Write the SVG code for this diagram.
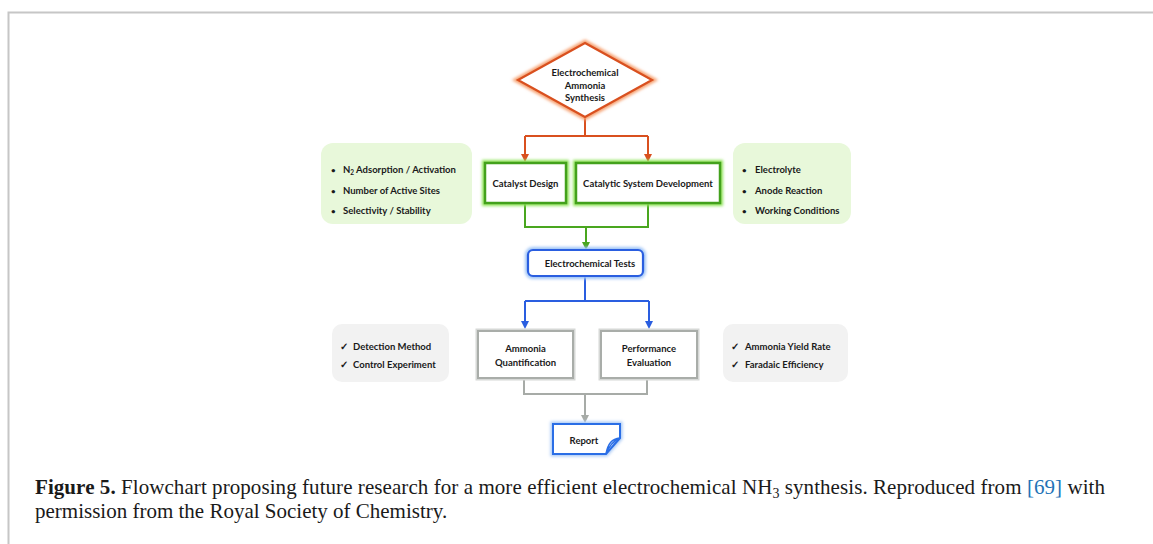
<svg xmlns="http://www.w3.org/2000/svg" width="1153" height="544" viewBox="0 0 1153 544">
<defs>
<style>
.t{font-family:Lato,"Liberation Sans",sans-serif;font-weight:700;font-size:9.5px;fill:#1a1a1a}
.b{font-family:Lato,"Liberation Sans",sans-serif;font-weight:700;font-size:8px;fill:#1a1a1a}
.tc{text-anchor:middle}
.cap{font-family:"Liberation Serif",serif;font-size:21px;fill:#1a1a1a}
.or{fill:none;stroke:#d9501f;stroke-width:2}
.gr{fill:none;stroke:#49a61f;stroke-width:2}
.bl{fill:none;stroke:#2a5ee0;stroke-width:2}
.gy{fill:none;stroke:#a7aba7;stroke-width:2}
</style>
<filter id="blur" x="-20%" y="-20%" width="140%" height="140%"><feGaussianBlur stdDeviation="1.6"/></filter>
</defs>
<rect width="1153" height="544" fill="#ffffff"/>
<path d="M8.5,544 V12.5 H1153" fill="none" stroke="#c6c6c6" stroke-width="2"/>

<g id="connectors">
<path class="or" d="M585,117 V136"/>
<path class="or" d="M525,136 H648"/>
<path class="or" d="M525,136 V155"/>
<path class="or" d="M648,136 V155"/>
<path class="gr" d="M525,204 V227 H648 V204"/>
<path class="gr" d="M586,227 V243"/>
<path class="bl" d="M585,277 V301"/>
<path class="bl" d="M525,301 H649"/>
<path class="bl" d="M525,301 V322"/>
<path class="bl" d="M649,301 V322"/>
<path class="gy" d="M524,379 V394 H647 V379"/>
<path class="gy" d="M585,394 V416"/>
<path d="M521,154 L529,154 L525,162 Z" fill="#d9501f"/>
<path d="M644,154 L652,154 L648,162 Z" fill="#d9501f"/>
<path d="M582,242 L590,242 L586,250 Z" fill="#49a61f"/>
<path d="M521,321 L529,321 L525,329 Z" fill="#2a5ee0"/>
<path d="M645,321 L653,321 L649,329 Z" fill="#2a5ee0"/>
<path d="M581,415 L589,415 L585,423 Z" fill="#a7aba7"/>
</g>

<g id="node-diamond">
<path d="M585,43 L652,80 L585,117 L518,80 Z" fill="none" stroke="#f6a070" stroke-width="6" filter="url(#blur)"/>
<path d="M585,43 L652,80 L585,117 L518,80 Z" fill="#ffffff" stroke="#d9501f" stroke-width="2.2"/>
<text class="t tc" x="585" y="76">Electrochemical</text>
<text class="t tc" x="585" y="89">Ammonia</text>
<text class="t tc" x="585" y="101">Synthesis</text>
</g>

<g id="node-catalyst-design">
<rect x="485" y="163" width="81" height="40" fill="none" stroke="#8fe35a" stroke-width="6" filter="url(#blur)"/>
<rect x="485" y="163" width="81" height="40" fill="#ffffff" stroke="#43a11c" stroke-width="2.5"/>
<text class="t tc" x="525.5" y="187">Catalyst Design</text>
</g>

<g id="node-catalytic-system">
<rect x="576" y="163" width="144" height="40" fill="none" stroke="#8fe35a" stroke-width="6" filter="url(#blur)"/>
<rect x="576" y="163" width="144" height="40" fill="#ffffff" stroke="#43a11c" stroke-width="2.5"/>
<text class="t tc" x="648" y="187">Catalytic System Development</text>
</g>

<g id="panel-catalyst">
<rect x="321" y="143" width="151" height="81" rx="12" fill="#e8f8da"/>
<text class="b" x="331" y="173">•</text><text class="t" x="343" y="173">N<tspan font-size="6.5" dy="2">2</tspan><tspan dy="-2"> Adsorption / Activation</tspan></text>
<text class="b" x="331" y="194">•</text><text class="t" x="343" y="194">Number of Active Sites</text>
<text class="b" x="331" y="214">•</text><text class="t" x="343" y="214">Selectivity / Stability</text>
</g>

<g id="panel-system">
<rect x="733" y="143" width="118" height="81" rx="12" fill="#e8f8da"/>
<text class="b" x="742" y="173">•</text><text class="t" x="755" y="173">Electrolyte</text>
<text class="b" x="742" y="194">•</text><text class="t" x="755" y="194">Anode Reaction</text>
<text class="b" x="742" y="214">•</text><text class="t" x="755" y="214">Working Conditions</text>
</g>

<g id="node-tests">
<rect x="528" y="250" width="115" height="26" rx="5" fill="none" stroke="#9fc4f6" stroke-width="6" filter="url(#blur)"/>
<rect x="528" y="250" width="115" height="26" rx="5" fill="#ffffff" stroke="#2a5ee0" stroke-width="2.2"/>
<text class="t tc" x="590" y="267">Electrochemical Tests</text>
</g>

<g id="panel-detection">
<rect x="332" y="324" width="117" height="58" rx="10" fill="#f2f2f2"/>
<text class="t" x="340" y="350">✓</text><text class="t" x="353" y="350">Detection Method</text>
<text class="t" x="340" y="368">✓</text><text class="t" x="353" y="368">Control Experiment</text>
</g>

<g id="node-quantification">
<rect x="478" y="331" width="95" height="47" fill="#ffffff" stroke="#d6d8d6" stroke-width="5"/>
<rect x="478" y="331" width="95" height="47" fill="#ffffff" stroke="#a9ada9" stroke-width="2"/>
<text class="t tc" x="525.5" y="352">Ammonia</text>
<text class="t tc" x="525.5" y="366">Quantification</text>
</g>

<g id="node-performance">
<rect x="601" y="331" width="96" height="47" fill="#ffffff" stroke="#d6d8d6" stroke-width="5"/>
<rect x="601" y="331" width="96" height="47" fill="#ffffff" stroke="#a9ada9" stroke-width="2"/>
<text class="t tc" x="649" y="352">Performance</text>
<text class="t tc" x="649" y="366">Evaluation</text>
</g>

<g id="panel-yield">
<rect x="723" y="324" width="125" height="58" rx="10" fill="#f2f2f2"/>
<text class="t" x="731" y="350">✓</text><text class="t" x="745" y="350">Ammonia Yield Rate</text>
<text class="t" x="731" y="368">✓</text><text class="t" x="745" y="368">Faradaic Efficiency</text>
</g>

<g id="node-report">
<path d="M553,424 H620 V438 L606,454 H553 Z" fill="none" stroke="#a9c9f5" stroke-width="5" filter="url(#blur)"/>
<path d="M553,424 H620 V438 L606,454 H553 Z" fill="#ffffff" stroke="#2a6ee6" stroke-width="2"/>
<path d="M620,438 C612,439 608,443 606,454 C609,446 613,441 620,438 Z" fill="#eaf2fd" stroke="#2a6ee6" stroke-width="1.5"/>
<text class="t tc" x="584" y="444">Report</text>
</g>

<g id="caption">
<text class="cap" x="35" y="494" textLength="1070" lengthAdjust="spacing"><tspan font-weight="700">Figure 5.</tspan> Flowchart proposing future research for a more efficient electrochemical NH<tspan font-size="14" dy="4">3</tspan><tspan dy="-4"> synthesis. Reproduced from </tspan><tspan fill="#1f73b7">[69]</tspan> with</text>
<text class="cap" x="35" y="518">permission from the Royal Society of Chemistry.</text>
</g>
</svg>
